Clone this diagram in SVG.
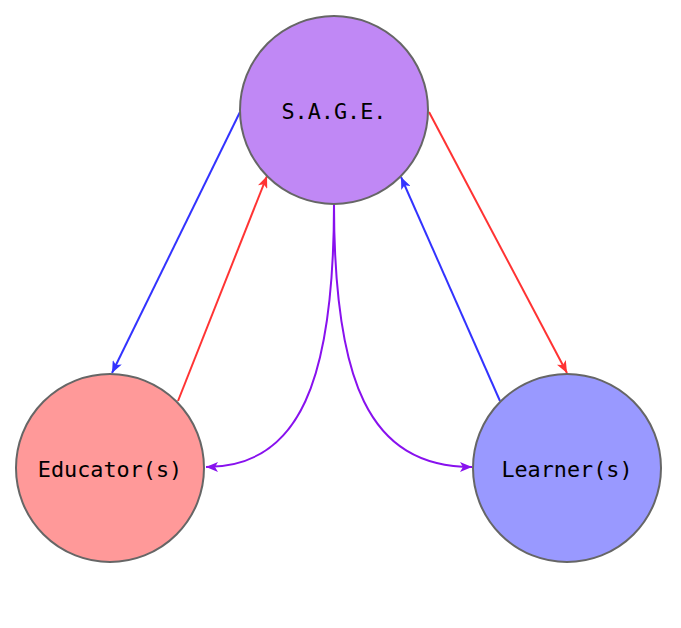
<svg xmlns="http://www.w3.org/2000/svg" width="681" height="628" viewBox="0 0 681 628">
<style>
.node{stroke:#666666;stroke-width:2}
.lbl{font-family:"DejaVu Sans Mono","Liberation Mono",monospace;font-size:21.8px;fill:#000;text-anchor:middle;dominant-baseline:central}
.e{fill:none;stroke-width:2}
</style>
<defs>
<marker id="aB" viewBox="0 0 12 10" refX="12" refY="5" markerWidth="12" markerHeight="10" markerUnits="userSpaceOnUse" orient="auto"><path d="M0,0 L12,5 L0,10 L3,5 z" fill="#3333ff"/></marker>
<marker id="aR" viewBox="0 0 12 10" refX="12" refY="5" markerWidth="12" markerHeight="10" markerUnits="userSpaceOnUse" orient="auto"><path d="M0,0 L12,5 L0,10 L3,5 z" fill="#ff3333"/></marker>
<marker id="aP" viewBox="0 0 12 10" refX="12" refY="5" markerWidth="12" markerHeight="10" markerUnits="userSpaceOnUse" orient="auto"><path d="M0,0 L12,5 L0,10 L3,5 z" fill="#8811ee"/></marker>
</defs>
<rect width="681" height="628" fill="#ffffff"/>
<g id="connectors">
<path class="e" d="M240,112 L112,373" stroke="#3333ff" marker-end="url(#aB)"/>
<path class="e" d="M178,401 L267,176" stroke="#ff3333" marker-end="url(#aR)"/>
<path class="e" d="M429,112 L567,373" stroke="#ff3333" marker-end="url(#aR)"/>
<path class="e" d="M500,401 L401,177" stroke="#3333ff" marker-end="url(#aB)"/>
<path class="e" d="M334,204 C334,380 300,467 206,467" stroke="#8811ee" marker-end="url(#aP)"/>
<path class="e" d="M334,204 C334,380 368,467 472,467" stroke="#8811ee" marker-end="url(#aP)"/>
</g>
<g id="sage">
<circle class="node" cx="334" cy="110" r="94" fill="#c088f5"/>
<text class="lbl" x="334" y="111">S.A.G.E.</text>
</g>
<g id="educator">
<circle class="node" cx="110" cy="468" r="94" fill="#ff9999"/>
<text class="lbl" x="110" y="469">Educator(s)</text>
</g>
<g id="learner">
<circle class="node" cx="567" cy="468" r="94" fill="#9999ff"/>
<text class="lbl" x="567" y="469">Learner(s)</text>
</g>
</svg>
